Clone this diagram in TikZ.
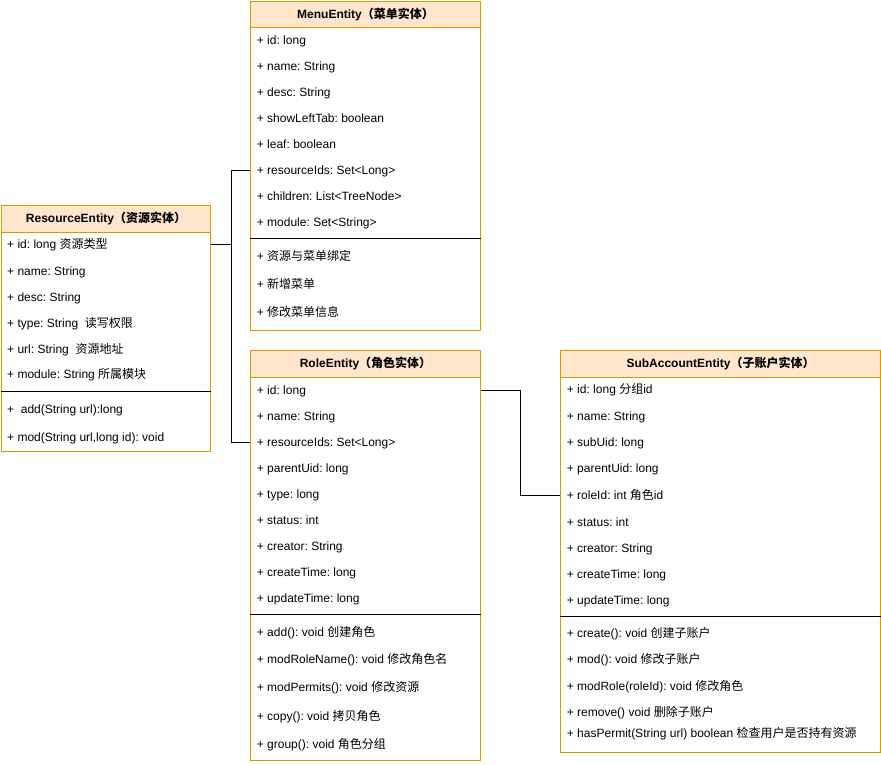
\documentclass[tikz,border=0pt]{standalone}
\usepackage{fontspec}
\setmainfont{Liberation Sans}
\newfontfamily\cjk{Noto Sans CJK SC}
\definecolor{boxor}{HTML}{D79B00}
\definecolor{hdrfill}{HTML}{FFE6CC}
\frenchspacing
\begin{document}
\begin{tikzpicture}[x=1pt,y=-1pt,
  ent/.style={draw=boxor, line width=1pt, inner sep=0pt, anchor=north west},
  hdr/.style={fill=hdrfill, draw=boxor, line width=1pt, inner sep=0pt, anchor=north west, font=\bfseries\fontsize{12}{14}\selectfont},
  row/.style={anchor=west, inner sep=0pt, text height=8.6pt, text depth=0pt, font=\fontsize{12}{14}\selectfont},
  sep/.style={draw=black, line width=1pt},
  conn/.style={draw=black, line width=1pt},
]
\useasboundingbox (0,0) rectangle (881,764);

% ---------- ResourceEntity ----------
\node[ent, minimum width=209, minimum height=246] (res) at (1,205) {};
\node[hdr, minimum width=209, minimum height=26.7] (resh) at (1,205) {ResourceEntity{\cjk\bfseries（资源实体）}};
\node[row] (r1) at (7,244.3) {+ id: long {\cjk 资源类型}};
\node[row] (r2) at (7,270.7) {+ name: String};
\node[row] (r3) at (7,297) {+ desc: String};
\node[row] (r4) at (7,322.7) {+ type: String\ \ {\cjk 读写权限}};
\node[row] (r5) at (7,348.7) {+ url: String\ \ {\cjk 资源地址}};
\node[row] (r6) at (7,374.3) {+ module: String {\cjk 所属模块}};
\draw[sep] (res.west |- 0,391.7) -- (res.east |- 0,391.7);
\node[row] (r7) at (7,409) {+\ \ add(String url):long};
\node[row] (r8) at (7,436.7) {+ mod(String url,long id): void};

% ---------- MenuEntity ----------
\node[ent, minimum width=230, minimum height=329] (menu) at (250,1) {};
\node[hdr, minimum width=230, minimum height=25.7] (menuh) at (250,1) {MenuEntity{\cjk\bfseries（菜单实体）}};
\node[row] (m1) at (256.7,40) {+ id: long};
\node[row] (m2) at (256.7,65.7) {+ name: String};
\node[row] (m3) at (256.7,91.7) {+ desc: String};
\node[row] (m4) at (256.7,117.7) {+ showLeftTab: boolean};
\node[row] (m5) at (256.7,143.7) {+ leaf: boolean};
\node[row] (m6) at (256.7,170) {+ resourceIds: Set<Long>};
\node[row] (m7) at (256.7,196) {+ children: List<TreeNode>};
\node[row] (m8) at (256.7,221.7) {+ module: Set<String>};
\draw[sep] (menu.west |- 0,238.3) -- (menu.east |- 0,238.3);
\node[row] (m9) at (256.7,256) {+ {\cjk 资源与菜单绑定}};
\node[row] (m10) at (256.7,284) {+ {\cjk 新增菜单}};
\node[row] (m11) at (256.7,312) {+ {\cjk 修改菜单信息}};

% ---------- RoleEntity ----------
\node[ent, minimum width=230, minimum height=410] (role) at (250,350) {};
\node[hdr, minimum width=230, minimum height=26.7] (roleh) at (250,350) {RoleEntity{\cjk\bfseries（角色实体）}};
\node[row] (o1) at (256.7,390) {+ id: long};
\node[row] (o2) at (256.7,415.7) {+ name: String};
\node[row] (o3) at (256.7,442) {+ resourceIds: Set<Long>};
\node[row] (o4) at (256.7,468) {+ parentUid: long};
\node[row] (o5) at (256.7,494) {+ type: long};
\node[row] (o6) at (256.7,519.7) {+ status: int};
\node[row] (o7) at (256.7,545.7) {+ creator: String};
\node[row] (o8) at (256.7,571.7) {+ createTime: long};
\node[row] (o9) at (256.7,597.7) {+ updateTime: long};
\draw[sep] (role.west |- 0,614.3) -- (role.east |- 0,614.3);
\node[row] (o10) at (256.7,631.7) {+ add(): void {\cjk 创建角色}};
\node[row] (o11) at (256.7,659.3) {+ modRoleName(): void {\cjk 修改角色名}};
\node[row] (o12) at (256.7,687.3) {+ modPermits(): void {\cjk 修改资源}};
\node[row] (o13) at (256.7,715.7) {+ copy(): void {\cjk 拷贝角色}};
\node[row] (o14) at (256.7,743.7) {+ group(): void {\cjk 角色分组}};

% ---------- SubAccountEntity ----------
\node[ent, minimum width=320, minimum height=402] (sub) at (560,350) {};
\node[hdr, minimum width=320, minimum height=26.7] (subh) at (560,350) {SubAccountEntity{\cjk\bfseries（子账户实体）}};
\node[row] (s1) at (566.7,389.5) {+ id: long {\cjk 分组}id};
\node[row] (s2) at (566.7,415.7) {+ name: String};
\node[row] (s3) at (566.7,442) {+ subUid: long};
\node[row] (s4) at (566.7,468) {+ parentUid: long};
\node[row] (s5) at (566.7,495.3) {+ roleId: int {\cjk 角色}id};
\node[row] (s6) at (566.7,521.7) {+ status: int};
\node[row] (s7) at (566.7,547.7) {+ creator: String};
\node[row] (s8) at (566.7,574) {+ createTime: long};
\node[row] (s9) at (566.7,600) {+ updateTime: long};
\draw[sep] (sub.west |- 0,616.7) -- (sub.east |- 0,616.7);
\node[row] (s10) at (566.7,633) {+ create(): void {\cjk 创建子账户}};
\node[row] (s11) at (566.7,659) {+ mod(): void {\cjk 修改子账户}};
\node[row] (s12) at (566.7,685.7) {+ modRole(roleId): void {\cjk 修改角色}};
\node[row] (s13) at (566.7,711.7) {+ remove() void {\cjk 删除子账户}};
\node[row] (s14) at (566.7,733.3) {+ hasPermit(String url) boolean {\cjk 检查用户是否持有资源}};

% ---------- connectors ----------
\coordinate (j1) at (231,244.3);
\draw[conn] (res.east |- r1) -- (j1) |- (menu.west |- m6);
\draw[conn] (res.east |- r1) -- (j1) |- (role.west |- o3);
\coordinate (j2) at (520.5,390);
\draw[conn] (role.east |- o1) -- (j2) |- (sub.west |- s5);
\end{tikzpicture}
\end{document}
